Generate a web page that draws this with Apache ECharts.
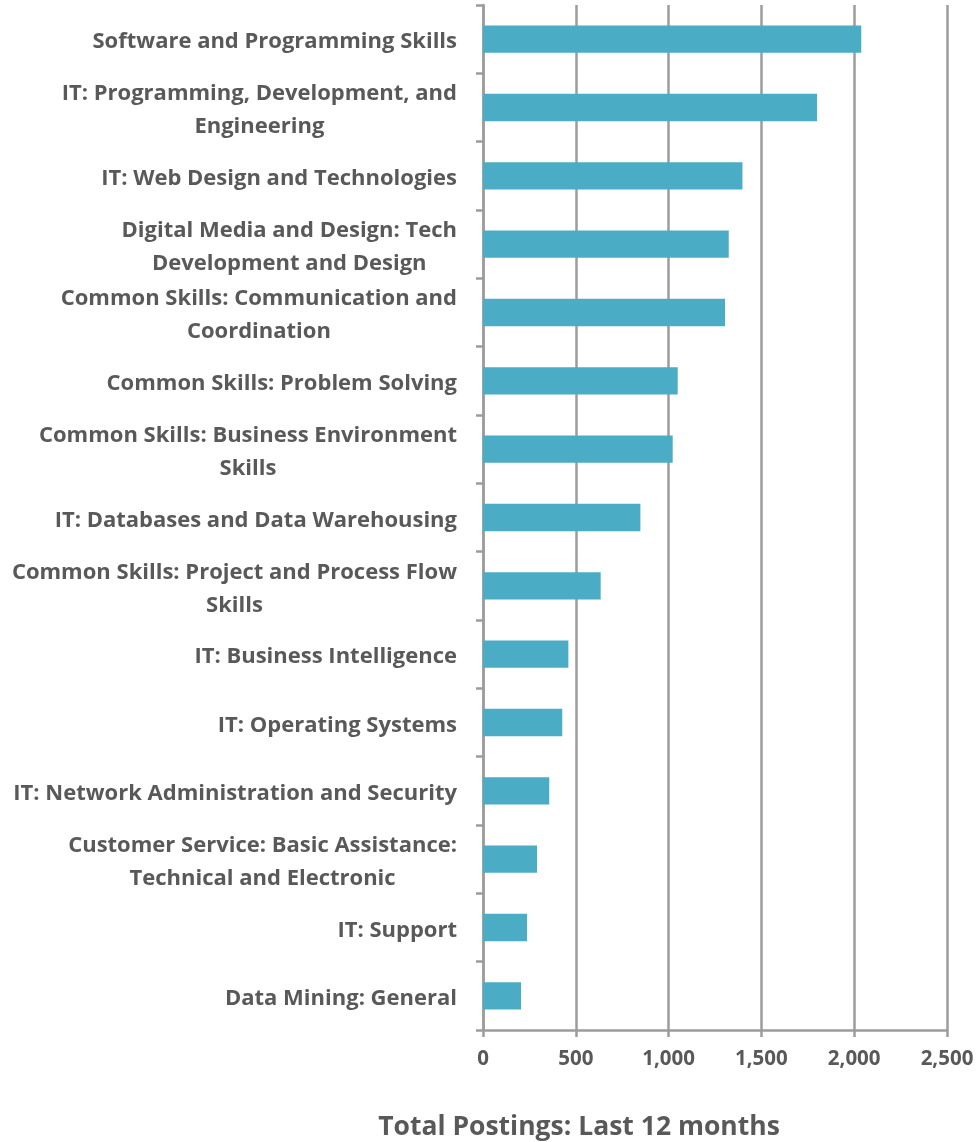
<!DOCTYPE html>
<html>
<head>
<meta charset="utf-8">
<script src="https://cdn.jsdelivr.net/npm/echarts@6/dist/echarts.min.js"></script>
<style>
  html, body { margin: 0; padding: 0; background: #fff; }
  #main { width: 978px; height: 1142px; }
</style>
</head>
<body>
<div id="main"></div>
<script>
// skill categories, top to bottom
var categories = [
  'Software and Programming Skills',
  'IT: Programming, Development, and\nEngineering',
  'IT: Web Design and Technologies',
  'Digital Media and Design: Tech\nDevelopment and Design',
  'Common Skills: Communication and\nCoordination',
  'Common Skills: Problem Solving',
  'Common Skills: Business Environment\nSkills',
  'IT: Databases and Data Warehousing',
  'Common Skills: Project and Process Flow\nSkills',
  'IT: Business Intelligence',
  'IT: Operating Systems',
  'IT: Network Administration and Security',
  'Customer Service: Basic Assistance:\nTechnical and Electronic',
  'IT: Support',
  'Data Mining: General'
];
var postings = [2038, 1800, 1398, 1324, 1304, 1049, 1022, 848, 634, 460, 427, 357, 291, 237, 205];
var xTicks = [0, 500, 1000, 1500, 2000, 2500];
var axisTitle = 'Total Postings: Last 12 months';

var FONT = '"Open Sans"';
var GREY = '#9c9c9c';
var TXT = '#595959';

var chart = echarts.init(document.getElementById('main'));
chart.setOption({
  animation: false,
  grid: { left: 483, right: 31, top: 5, bottom: 112, containLabel: false },
  xAxis: {
    type: 'value',
    min: xTicks[0],
    max: xTicks[xTicks.length - 1],
    interval: 500,
    axisLine: { show: true, lineStyle: { color: GREY, width: 2.5 } },
    axisTick: { show: true, length: 7, lineStyle: { color: GREY, width: 2.5 } },
    splitLine: { show: true, lineStyle: { color: GREY, width: 2.5 } },
    axisLabel: {
      margin: 19,
      color: TXT,
      fontFamily: FONT,
      fontWeight: 'bold',
      fontSize: 20.5,
      formatter: function (v) { return v.toLocaleString('en-US'); }
    }
  },
  yAxis: {
    type: 'category',
    inverse: true,
    data: categories,
    axisLine: { show: true, lineStyle: { color: GREY, width: 2.5 } },
    axisTick: { show: true, length: 7, lineStyle: { color: GREY, width: 2.5 } },
    splitLine: { show: false },
    axisLabel: {
      margin: 26,
      align: 'right',
      padding: [6, 0, 0, 0],
      formatter: function (v) {
        return v.split('\n').map(function (s) { return '{c|' + s + '}'; }).join('\n');
      },
      rich: {
        c: {
          align: 'center',
          color: TXT,
          fontFamily: FONT,
          fontWeight: 'bold',
          fontSize: 22,
          lineHeight: 33
        }
      }
    }
  },
  series: [{
    type: 'bar',
    data: postings,
    barCategoryGap: '60%',
    itemStyle: { color: '#4bacc6' }
  }],
  graphic: [{
    type: 'text',
    x: 579,
    y: 1127,
    style: {
      text: axisTitle,
      align: 'center',
      verticalAlign: 'middle',
      fill: TXT,
      font: 'bold 26.5px ' + FONT
    }
  }]
});
</script>
</body>
</html>
